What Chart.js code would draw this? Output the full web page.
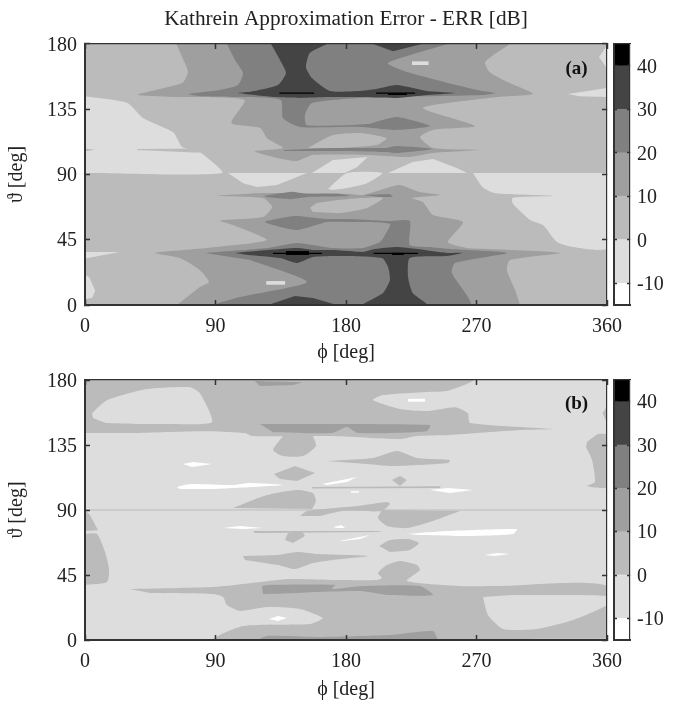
<!DOCTYPE html>
<html>
<head>
<meta charset="utf-8">
<script src="https://cdn.jsdelivr.net/npm/chart.js@4"></script>
<style>
  body { margin: 0; background: #fff; width: 680px; height: 702px; overflow: hidden; }
  canvas { position: absolute; filter: blur(0.4px); }
</style>
</head>
<body>
<canvas id="panelA" width="680" height="365" style="left:0;top:0"></canvas>
<canvas id="barA" width="80" height="365" style="left:600px;top:0"></canvas>
<canvas id="panelB" width="680" height="337" style="left:0;top:365px"></canvas>
<canvas id="barB" width="80" height="337" style="left:600px;top:365px"></canvas>
<script>
const phiTicks = [0, 90, 180, 270, 360];
const thetaTicks = [0, 45, 90, 135, 180];
const barTicks = [-10, 0, 10, 20, 30, 40];
const bandEdges = [-15, -10, 0, 10, 20, 30, 40, 45];
const bandColors = ["#ffffff", "#dddddd", "#bbbbbb", "#9f9f9f", "#808080", "#444444", "#000000"];

// contour regions, flat phi,theta pairs in degrees
const fullFrame = [0,0, 360,0, 360,180, 0,180];

// (a) -10..0
const aLow1 = [0,144, 29,139.5, 40,129, 61,119, 67,109, 79,105.5, 94.5,91, 0,91];
const aLow2 = [156.5,91, 171,100, 195,102, 187.5,95, 179,91];
const aLow3 = [209,91, 226,98.6, 240,100.7, 256.5,94.5, 263.5,91];
const aLow4 = [267.6,91, 274.5,81, 283,77, 323,75.2, 295,74, 295,70, 307,58.6, 316,55, 325.5,43.4, 336.5,40, 360,39.3, 360,91];
const aLow5 = [98.6,91, 109,84, 118.6,81.4, 132.4,82.8, 153,91];
const aLow6 = [167.6,80, 180.7,91, 205,91, 194.5,84, 180.7,80.7, 171,79.3];
const aLow7 = [0,21, 3,19, 7,10, 5,5, 0,4];
const aLow8 = [0,36.5, 24,36.5, 0,32];
const aLow9 = [360,179, 354.5,171, 360,163];
const aLow10 = [333,145.5, 360,149.7, 360,143.4, 341,144];
const aLow11 = [225.5,165.5, 237,165.5, 237,168, 225.5,168];
const aLow12 = [125,14, 138,14, 138,16.5, 125,16.5];
// (a) 0..10 notches and islands
const aNotch1 = [36,106.9, 79,105, 79,108, 36,107.6];
const aNotch2 = [0,106, 7,107, 0,108];
const aIsle1 = [153.8,108.3, 171,117.2, 189.7,118.6, 208,115, 201,110.3, 177,108.3];
const aIsle2 = [155.2,66.9, 160,70.3, 180.7,73, 205.5,73.8, 194.5,66.9, 175.9,63.4, 157.2,64.1];
// (a) 10..20
const aMidTop = [63,180, 67,171, 71,160.7, 67,153, 36.5,145, 62,143.4, 110,141.4, 101,125.5, 121,122, 125.5,115, 136.5,108.3, 117,106, 132.4,101.4, 146,99.3, 157,103.4, 194.5,103.4, 222.8,102, 240,104.8, 272.4,107, 240,108.3, 231,115.9, 240,120.7, 269,123.4, 233,135.9, 284,143.4, 309,145.5, 293,153, 279,160.7, 276,167.6, 293,180];
const aMidLow = [63.4,0, 79.3,12.4, 85.5,15.9, 79.3,24, 65.5,32.4, 48.3,35.9, 84,39.3, 125.5,44.8, 102,55.2, 93,58.3, 122.8,60.7, 129,67.6, 122.8,73.8, 91,75.2, 122.8,77.2, 153,77.2, 182.8,76.6, 191.7,75.9, 210.3,81.4, 217.2,82.8, 231,77.9, 244.8,75.9, 225.5,73.8, 233,71, 240,62, 260.7,57.2, 250.3,43.4, 263.4,39.3, 279.3,38.6, 327.6,35.9, 293,31, 291,24, 296.6,10.3, 300,0];
// (a) 20..30
const aHighTop = [98,180, 103.4,169, 109,160, 105.5,151.7, 93,148.3, 71,145.5, 79.3,144, 107,143.4, 135,141.4, 136.5,129, 148.3,122.8, 189.7,122.8, 215,120.7, 238,123.4, 215,129.7, 194.5,124.8, 153,124, 151.7,131, 156.5,139.3, 189.7,142.8, 274.5,144.8, 282.8,146.2, 270.3,148.3, 222,160.7, 209,166.9, 250.3,180];
const aHighStripe = [137,106.9, 171,108.3, 207,108.3, 215,109.7, 240,107.6, 215,104.8, 207,105.5, 171,106.2, 137,106.2];
const aHighLine1 = [122.8,75.2, 141.4,78, 153,76.6, 176,76.6, 182.8,75.2, 153,74.5, 141.4,73, 125.5,74.5];
const aHighLine2 = [191.7,75.9, 210.3,76.6, 212.4,74.5, 203.4,74.5];
const aHighLow = [82.8,35.9, 125.5,39.3, 146.2,42.8, 171,39.3, 191.7,39.3, 203.4,43.4, 206.9,48.3, 210.3,55.9, 182.8,57.2, 166.9,57.2, 146.2,51.7, 124,57.2, 144.8,61.4, 166.9,59.3, 182.8,59.3, 210.3,57.9, 224,57.9, 224,41.4, 238,40, 251.7,38.6, 291,35.9, 255.2,29, 253,22, 265.5,0, 89.7,0, 106.9,5.5, 153,15.9, 113.8,31];
// (a) 30..40
const aDarkTop = [128.3,180, 134.5,169, 138.6,160, 133,151.7, 113.8,147, 105.5,146.2, 131,143.4, 148.3,142.8, 167.6,143.4, 189.7,143.4, 215,142.8, 235.9,144.8, 255,146.2, 235.9,147.6, 215,151.7, 201,149, 188.3,147.6, 169,147.6, 156.5,156.6, 152.4,164, 155,173.8, 167,180];
const aDarkCap = [198.6,180, 212.4,175, 232.4,180];
const aDarkLow = [103.4,35.9, 126.2,37.9, 146.2,39.3, 158.6,37.9, 172.4,37.9, 191.7,36.6, 200,38.6, 215,40, 229,38.6, 249.7,35.9, 260,35.9, 249.7,33.8, 224,32.4, 222.8,19.3, 226,8.3, 235.9,0, 191.7,0, 205.5,8.3, 210.3,17.2, 209,26.2, 204.8,32.4, 173.8,33.8, 157.2,33.1, 146.2,29, 134.5,32.4, 112.4,34.5];
const aDarkFoot = [126.2,0, 144.8,6.2, 157.2,4.8, 173.8,0];
// (a) above 40
const aPeak1 = [134,145.6, 158,145.6, 158,146.6, 134,146.6];
const aPeak2 = [200.7,145.6, 227.6,145.6, 227.6,146.6, 200.7,146.6];
const aPeak3 = [209,144.8, 222,144.8, 222,146, 209,146];
const aPeak4 = [129.7,35.1, 163.4,35.1, 163.4,36.1, 129.7,36.1];
const aPeak5 = [138.6,34.5, 154.5,34.5, 154.5,37.2, 138.6,37.2];
const aPeak6 = [199,35.1, 229.6,35.1, 229.6,36.1, 199,36.1];
const aPeak7 = [211.7,34.5, 220,34.5, 220,36, 211.7,36];

// (b) 0..10
const bUpper = [0,180, 267.6,180, 249.7,172.3, 233,171.6, 205.5,169.6, 198.6,166.1, 217.2,159.9, 235.9,158.5, 255.2,161.2, 264,157.1, 265.5,150.2, 322.8,146, 300,145.3, 251.7,141.9, 229,141.2, 217.2,139.1, 169,141.2, 115.2,141.2, 110.3,143.3, 79.3,144.6, 33.1,143.3, 0,143.3];
const bLower = [31,35.3, 88.3,36.7, 109,38.8, 141.4,42.2, 175.9,41.5, 201.4,41.5, 204.8,42.9, 202,46.4, 208.3,51.9, 217.2,54.7, 229,51.9, 231,48.4, 222,40.8, 257.2,37.4, 286.2,37.4, 360,37.4, 360,0, 88.3,0, 109,9.7, 155.2,11.1, 164.1,15.2, 148.3,21.5, 125.5,22.8, 106.9,20.1, 97.9,24.2, 95.2,29.8, 88.3,31.8, 44.8,32.5];
const bBlob1 = [136.6,141.2, 129.7,131.5, 136.6,127.3, 150.3,127.3, 159.3,134.3, 157.2,141.2];
const bBlob2 = [130.3,114.9, 144.8,120.4, 158.6,115.6, 146.2,110, 134.5,111.4];
const bBlob3 = [166.9,123.9, 198.6,126, 215.2,130.8, 229,126, 251.7,124.6, 250.3,122.5, 212.4,120.4, 194.5,121.8];
const bBlob4 = [211.7,110.7, 217.2,113.5, 222,110.7, 217.2,106.6];
const bLine1 = [156.6,106, 245,106.4, 245,105.2, 156.6,104.9];
const bBlob5 = [102,91.3, 125.5,100.3, 146.2,103.8, 157.2,101.7, 159.3,96.2, 156.6,90.7];
const bLine90 = [0,90.4, 360,90.4, 360,89.6, 0,89.6];
const bBlob6 = [148.3,85.8, 153.1,89.3, 187.6,92.7, 208.3,95.5, 210.3,94.1, 204.8,89.3, 177.9,89.3, 162,85.8];
const bBlob7 = [204.8,90, 202,84.4, 208.3,78.9, 222,77.5, 240,82.4, 258.6,89.3];
const bLine2 = [115.9,75.4, 205.5,75.4, 201.4,74.7, 117.2,74];
const bBlob8 = [140,74, 137.9,69.2, 143.4,67.1, 151.7,72, 149.7,75.4];
const bBlob9 = [202.8,65, 210.3,69.2, 222.8,69.9, 230.3,67.1, 224,62.3, 210.3,60.9];
const bBlob10 = [109,58.1, 132.4,58.8, 146.2,60.9, 160,59.5, 195.2,58.1, 171,55.4, 157.2,53.3, 144.8,49.1, 133.1,51.9, 110.3,55.4];
const bEdgeL1 = [0,73.4, 8.3,73.4, 13.8,60.9, 16.6,49.1, 15.2,40.1, 0,38.1];
const bEdgeL2 = [0,90, 3.4,86.5, 9,76, 0,75.4];
const bEdgeR1 = [346.2,137, 353.8,142.6, 360,141.9, 360,105.9, 346.2,106.6, 351.7,109.3, 349.7,124.6, 345.5,133.6];
const bEdgeR2 = [357,157, 360,162, 360,150];
// (b) -10..0 islands on the 0..10 regions
const bIsle1 = [4.8,157.1, 15.2,166, 42.8,173.7, 72.4,175, 79.3,170.9, 87.6,150.9, 60.7,149.5, 15.2,150.2, 5.5,153.7];
const bIsle2 = [274.5,29.8, 277.9,17.3, 288.3,7.6, 311.7,7.6, 336.6,13.8, 360,24.2, 360,30.4, 294.5,31.1];
const bIsle3 = [310,0, 360,0, 360,0.8, 310,0.8];
// (b) 10..20
const bMid1 = [117,179.3, 120.7,175.8, 143.4,176.5, 150.3,178.5];
const bMid2 = [120.7,149.5, 237.9,148.8, 235.9,144.6, 188.3,143.3, 180.7,147.5, 170.3,143.3, 129.7,143.9];
const bMid3 = [122,37.4, 126.2,38.1, 172.4,38.1, 170.3,35.3, 191.7,37.4, 231,37.4, 240,31.1, 210.3,31.1, 189.7,34, 122.8,31.8];
const bMid4 = [118.6,0, 125.5,2.8, 160,2.1, 210.3,3.5, 240,6.2, 243.4,0];
// (b) below -10
const bLowest1 = [67.6,121.8, 74.5,123.2, 87.6,121.8, 73.8,119.7];
const bLowest2 = [63.4,105.9, 72.4,108, 102,107.3, 113.8,108.7, 136.6,107.3, 102,105.2, 88.3,104.5, 65.5,104.5];
const bLowest3 = [163.4,108, 187.6,112.8, 180.7,109.3, 166.9,107.3];
const bLowest4 = [183.4,102, 189,102, 189,103, 183.4,103];
const bLowest5 = [238,103.8, 250.3,105.2, 267.6,103.8, 251.7,101.7];
const bLowest6 = [95.2,77.5, 106.9,78.9, 122.8,77.5, 109,76.8];
const bLowest7 = [171,78.2, 177,79.6, 179.3,77.5, 173.8,77.5];
const bLowest8 = [175.2,68.5, 196.6,72.7, 189.7,69.9, 178,68.5];
const bLowest9 = [222.8,73.4, 249.7,75.4, 297.9,76.8, 295.2,73.4, 263.4,72, 231,72.7];
const bLowest10 = [275.2,58.8, 284.1,60.2, 293,59.5, 282.8,58.1];
const bLowest11 = [126.9,14.5, 133.1,16.6, 139.3,15.2, 133.1,13.1];
const bLowest12 = [222.8,165, 234.5,165, 234.5,167, 222.8,167];

// painter's order: band index into bandColors, then the region
const layersA = [
  [2, fullFrame],
  [1, aLow1], [1, aLow2], [1, aLow3], [1, aLow4], [1, aLow5], [1, aLow6], [1, aLow7], [1, aLow8], [1, aLow9], [1, aLow10],
  [2, aNotch1], [2, aNotch2],
  [3, aMidTop], [3, aMidLow],
  [2, aIsle1], [2, aIsle2],
  [1, aLow11], [1, aLow12],
  [4, aHighTop], [4, aHighStripe], [4, aHighLine1], [4, aHighLine2], [4, aHighLow],
  [5, aDarkTop], [5, aDarkCap], [5, aDarkLow], [5, aDarkFoot],
  [6, aPeak1], [6, aPeak2], [6, aPeak3], [6, aPeak4], [6, aPeak5], [6, aPeak6], [6, aPeak7],
];
const layersB = [
  [1, fullFrame],
  [2, bUpper], [2, bLower], [2, bBlob1], [2, bBlob2], [2, bBlob3], [2, bBlob4], [2, bLine1], [2, bBlob5], [2, bLine90],
  [2, bBlob6], [2, bBlob7], [2, bLine2], [2, bBlob8], [2, bBlob9], [2, bBlob10],
  [2, bEdgeL1], [2, bEdgeL2], [2, bEdgeR1], [2, bEdgeR2],
  [1, bIsle1], [1, bIsle2], [1, bIsle3],
  [3, bMid1], [3, bMid2], [3, bMid3], [3, bMid4],
  [0, bLowest1], [0, bLowest2], [0, bLowest3], [0, bLowest4], [0, bLowest5], [0, bLowest6],
  [0, bLowest7], [0, bLowest8], [0, bLowest9], [0, bLowest10], [0, bLowest11], [0, bLowest12],
];

const serif = "'Liberation Serif', 'Times New Roman', serif";
const frame = "#333333";

function toPoints(flat) {
  const pts = [];
  for (let i = 0; i < flat.length; i += 2) pts.push({ x: flat[i], y: flat[i + 1] });
  return pts;
}

function useTicks(list) {
  return (scale) => { scale.ticks = list.map((v) => ({ value: v })); };
}

function axis(position, min, max, ticks, size, extra) {
  const heavy = position === "left" || position === "bottom";
  return Object.assign({
    type: "linear", position: position, min: min, max: max,
    afterBuildTicks: useTicks(ticks),
    afterFit: (s) => {
      if (s.isHorizontal()) s.height = size; else s.width = size;
      // labels may hang past the plot, keep the plot area where it is
      s.paddingTop = s.paddingBottom = s.paddingLeft = s.paddingRight = 0;
    },
    ticks: { display: false, autoSkip: false, maxRotation: 0, font: { family: serif, size: 20 }, color: "#222" },
    grid: { drawOnChartArea: false, drawTicks: true, tickLength: -5, tickColor: frame, tickWidth: 1.5, z: 2 },
    border: { display: true, color: frame, width: heavy ? 2 : 1.2, z: 2 },
  }, extra);
}

function panel(id, layers, note, topPad, bottomSize, titleText) {
  new Chart(document.getElementById(id), {
    type: "scatter",
    data: {
      // first dataset is drawn last, so the painter's order goes in reversed
      datasets: layers.slice().reverse().map(([band, flat]) => ({
        data: toPoints(flat),
        showLine: true, fill: "shape", tension: flat.length > 10 ? 0.2 : 0,
        backgroundColor: bandColors[band], borderColor: bandColors[band],
        borderWidth: 0, pointRadius: 0,
        xAxisID: "x", yAxisID: "y",
      })),
    },
    options: {
      responsive: false, animation: false, events: [],
      layout: { autoPadding: false, padding: { top: topPad, right: 73 } },
      plugins: {
        legend: { display: false }, tooltip: { enabled: false },
        title: titleText ? {
          display: true, text: titleText, fullSize: false, color: "#222",
          font: { family: serif, size: 21.3, weight: "normal" }, padding: { top: 7, bottom: 11.4 },
        } : { display: false },
      },
      scales: {
        x: axis("bottom", 0, 360, phiTicks, bottomSize, {
          ticks: { display: true, autoSkip: false, maxRotation: 0, padding: 15, font: { family: serif, size: 20 }, color: "#222" },
          title: { display: true, text: "\u03d5 [deg]", color: "#222", font: { family: serif, size: 20 }, padding: 0 },
        }),
        y: axis("left", 0, 180, thetaTicks, 85, {
          ticks: { display: true, autoSkip: false, padding: 13, labelOffset: 1.5, font: { family: serif, size: 20 }, color: "#222" },
          title: { display: true, text: "\u03d1 [deg]", color: "#222", font: { family: serif, size: 20 }, padding: { top: 5, bottom: 0 } },
        }),
        x2: axis("top", 0, 360, phiTicks, 0),
        y2: axis("right", 0, 180, thetaTicks, 0),
      },
    },
    plugins: [{
      id: "panelNote",
      afterDatasetsDraw(chart) {
        const { ctx, scales } = chart;
        ctx.save();
        ctx.font = "bold 19px " + serif;
        ctx.fillStyle = "#111";
        ctx.textAlign = "center";
        ctx.textBaseline = "middle";
        ctx.fillText(note, scales.x.getPixelForValue(339), scales.y.getPixelForValue(163));
        ctx.restore();
      },
    }],
  });
}

function colorBar(id, topPad, bottomSize) {
  new Chart(document.getElementById(id), {
    type: "bar",
    data: {
      labels: [""],
      datasets: bandColors.map((c, i) => ({
        data: [[bandEdges[i], bandEdges[i + 1]]],
        backgroundColor: c, borderWidth: 0, barPercentage: 1, categoryPercentage: 1, grouped: false,
      })),
    },
    options: {
      responsive: false, animation: false, events: [],
      layout: { autoPadding: false, padding: { top: topPad } },
      plugins: { legend: { display: false }, tooltip: { enabled: false } },
      scales: {
        x: {
          display: true, afterFit: (s) => { s.height = bottomSize; },
          ticks: { display: false },
          grid: { drawOnChartArea: false, drawTicks: false },
          border: { display: true, color: frame, width: 2, z: 2 },
        },
        x2: {
          type: "linear", position: "top", min: 0, max: 1, afterFit: (s) => { s.height = 0; },
          ticks: { display: false },
          grid: { drawOnChartArea: false, drawTicks: false },
          border: { display: true, color: frame, width: 1.2, z: 2 },
        },
        y: axis("right", -15, 45, barTicks, 50, {
          grid: { drawOnChartArea: false, drawTicks: true, tickLength: -3, tickColor: frame, tickWidth: 1.5, z: 2 },
          ticks: { display: true, autoSkip: false, padding: 10, labelOffset: 1.5, font: { family: serif, size: 20 }, color: "#222" },
        }),
        y2: axis("left", -15, 45, barTicks, 14, {
          grid: { drawOnChartArea: false, drawTicks: true, tickLength: -3, tickColor: frame, tickWidth: 1.5, z: 2 },
        }),
      },
    },
  });
}

panel("panelA", layersA, "(a)", 0, 60, "Kathrein Approximation Error - ERR [dB]");
panel("panelB", layersB, "(b)", 15, 62, "");
colorBar("barA", 44, 60);
colorBar("barB", 15, 62);
</script>
</body>
</html>
